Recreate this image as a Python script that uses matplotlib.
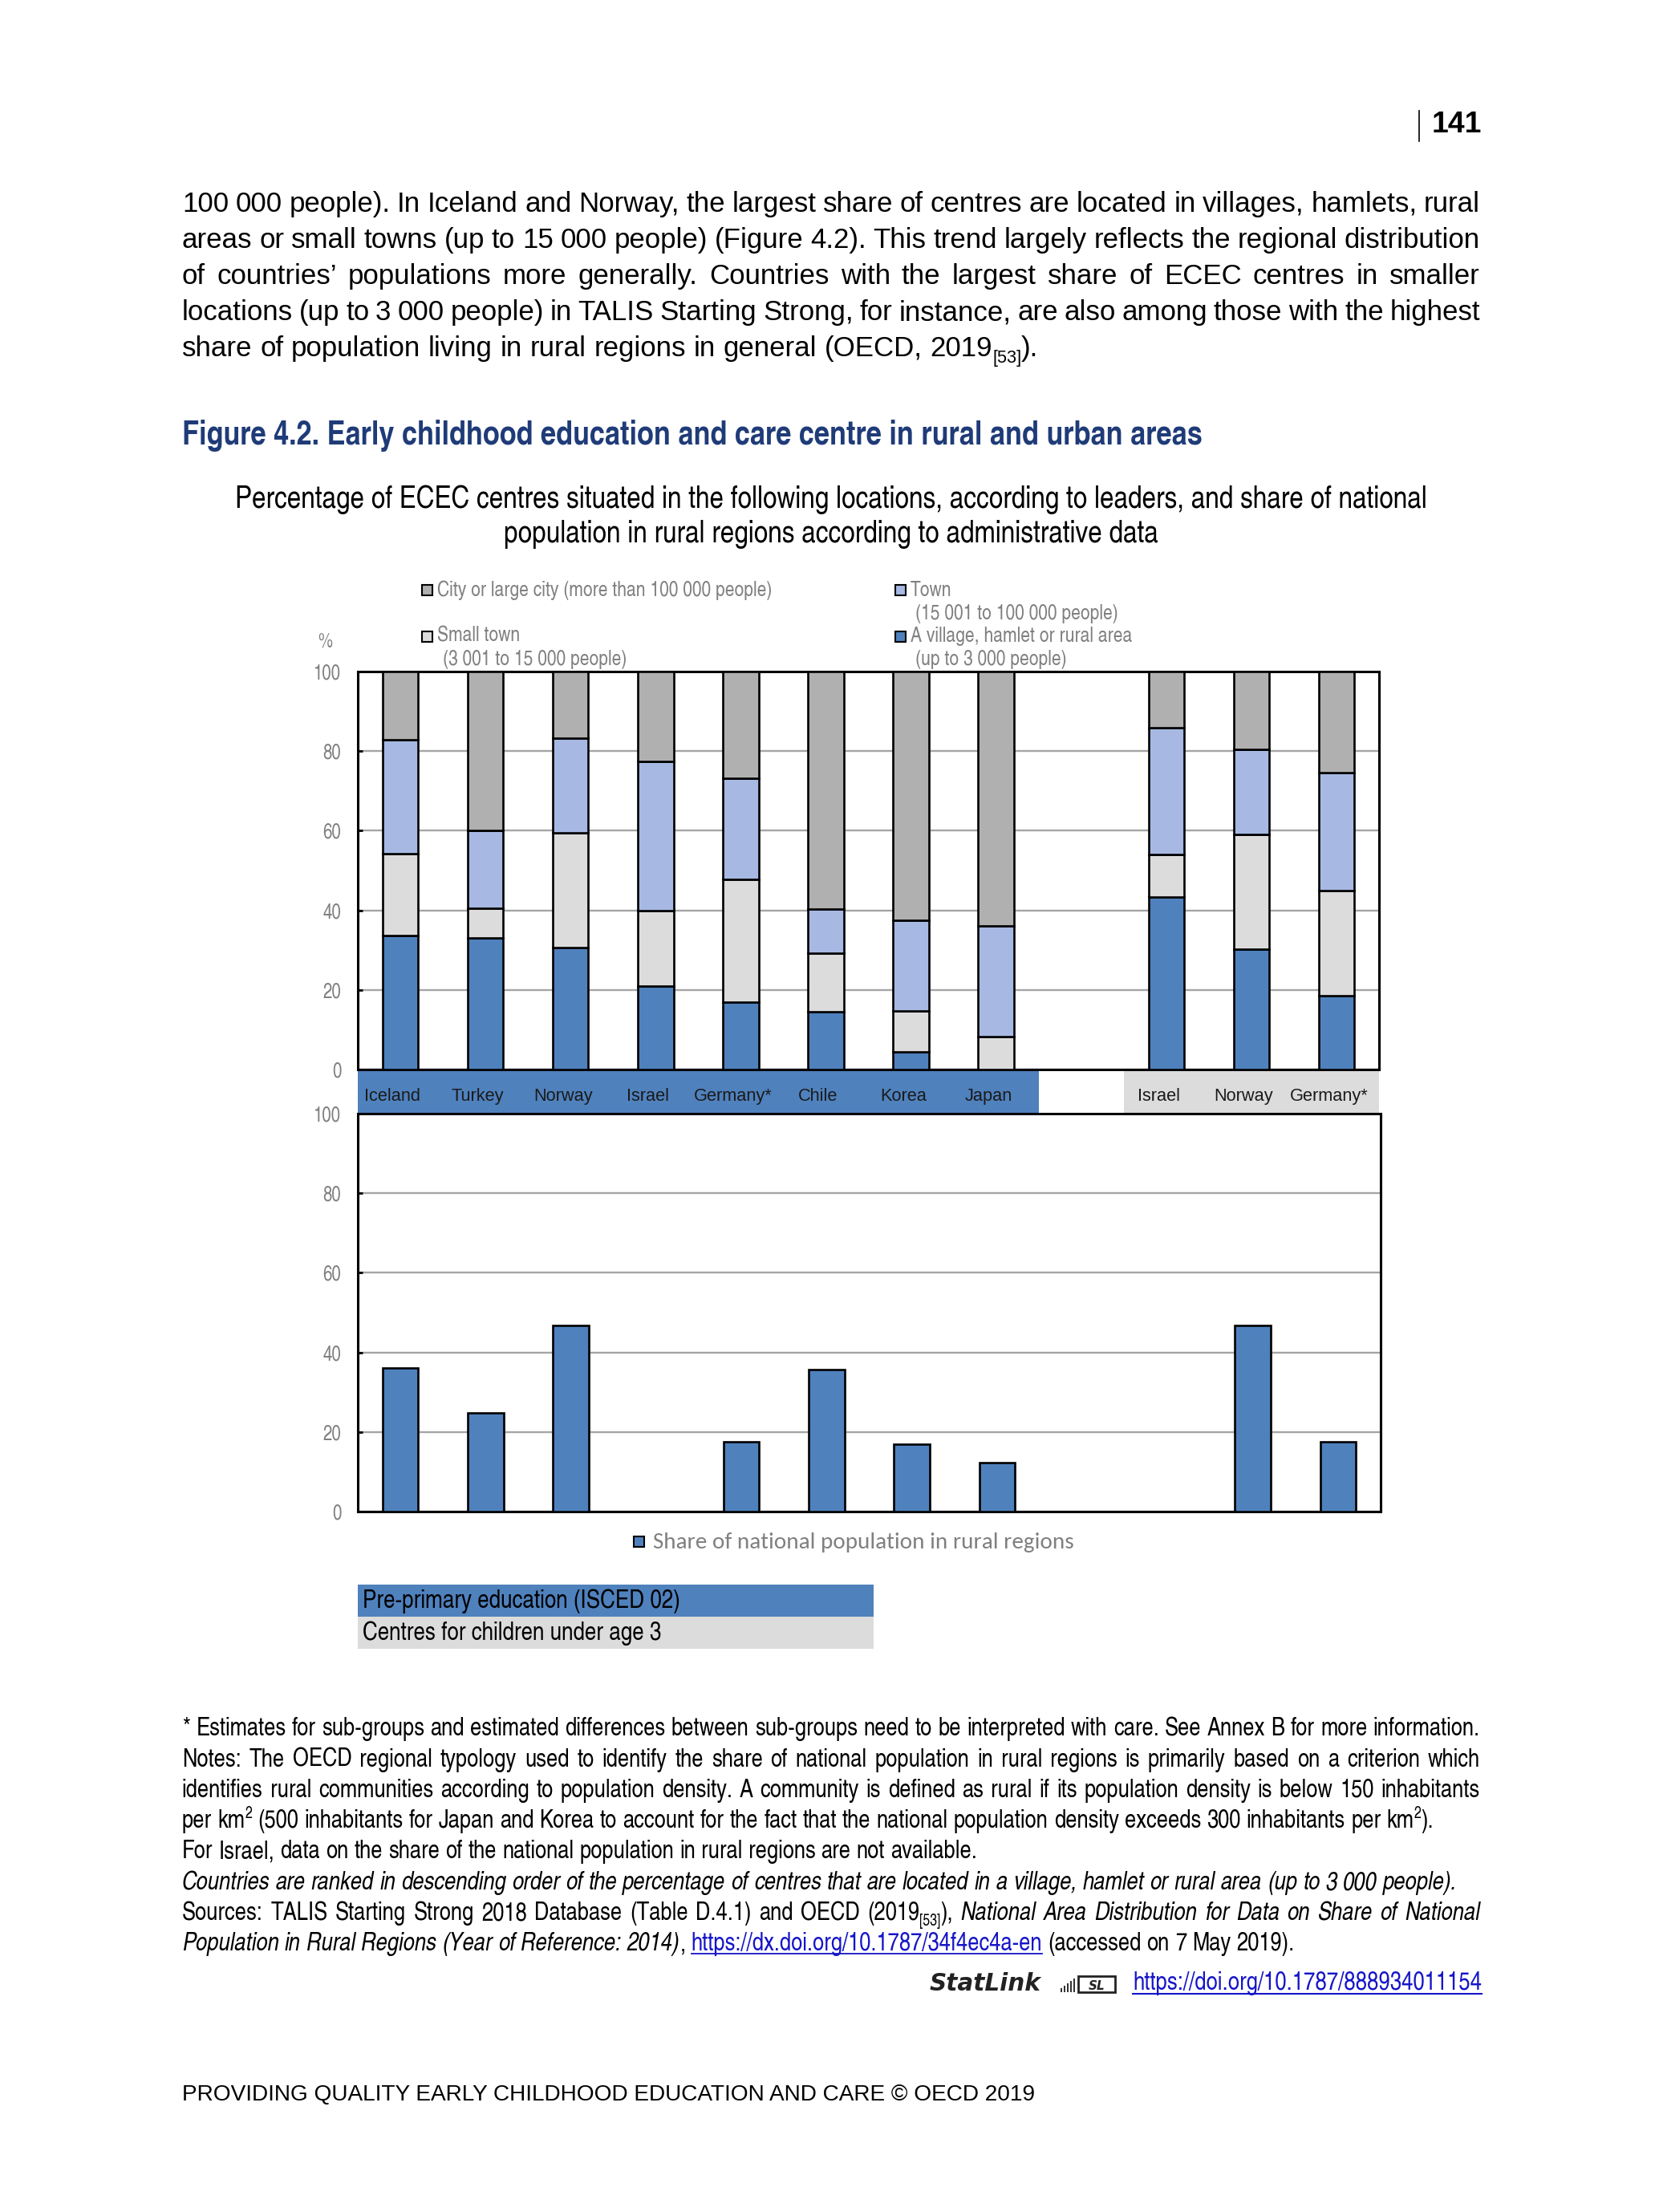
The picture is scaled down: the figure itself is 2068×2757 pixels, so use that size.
import matplotlib
matplotlib.use('Agg')
import matplotlib.pyplot as plt
from matplotlib import font_manager as fm
from matplotlib.patches import Rectangle
from matplotlib.lines import Line2D
from matplotlib.transforms import blended_transform_factory
import numpy as np

# ---------------- data ----------------
CATS_PRE = ['Iceland', 'Turkey', 'Norway', 'Israel', 'Germany*', 'Chile', 'Korea', 'Japan']
CATS_U3 = ['Israel', 'Norway', 'Germany*']

VILLAGE_PRE = [33.6, 33.0, 30.6, 21.0, 17.0, 14.5, 4.4, 0.0]
SMALLTOWN_PRE = [20.6, 7.5, 28.8, 19.0, 30.8, 14.7, 10.3, 8.3]
TOWN_PRE = [28.6, 19.5, 23.9, 37.4, 25.3, 11.2, 22.7, 27.7]
CITY_PRE = [17.2, 40.0, 16.7, 22.6, 26.9, 59.6, 62.6, 64.0]

VILLAGE_U3 = [43.4, 30.2, 18.5]
SMALLTOWN_U3 = [10.6, 28.8, 26.4]
TOWN_U3 = [31.8, 21.4, 29.6]
CITY_U3 = [14.2, 19.6, 25.5]

RURAL_PRE = [36.1, 24.8, 46.8, None, 17.5, 35.6, 17.0, 12.2]
RURAL_U3 = [None, 46.8, 17.5]

YTICKS = [0, 20, 40, 60, 80, 100]

LEG_CITY = 'City or large city (more than 100 000 people)'
LEG_TOWN = ['Town', '(15 001 to 100 000 people)']
LEG_SMALL = ['Small town', '(3 001 to 15 000 people)']
LEG_VILLAGE = ['A village, hamlet or rural area', '(up to 3 000 people)']
LEG_RURAL = 'Share of national population in rural regions'

# ---------------- colours ----------------
C_VILLAGE = '#4F81BD'
C_SMALL = '#DCDCDC'
C_TOWN = '#A7B9E3'
C_CITY = '#B0B0B0'
C_BAND_BLUE = '#4F81BD'
C_BAND_GRAY = '#DCDCDC'
C_GRID = '#A5A5A5'
C_TICK = '#808080'
C_TITLE = '#1F3B78'
C_LINK = '#1515C8'

W, H = 2068, 2757
fig = plt.figure(figsize=(W / 100, H / 100), dpi=100)
fig.patch.set_facecolor('white')
renderer = fig.canvas.get_renderer()


def has_font(name):
    try:
        fm.findfont(fm.FontProperties(family=name), fallback_to_default=False)
        return True
    except Exception:
        return False


def pick(cands, default='DejaVu Sans'):
    for c in cands:
        if has_font(c):
            return c
    return default


SANS = pick(['Liberation Sans', 'Arimo'])
NARROW = pick(['TeX Gyre Heros Cn', 'Liberation Sans Narrow', 'Roboto Condensed', 'Archivo Narrow'], SANS)
CALI = pick(['Carlito', 'Open Sans'], SANS)


def fx(x):
    return x / W


def fy(y):
    return 1 - y / H


def put(x, y, s, **kw):
    return fig.text(fx(x), fy(y), s, **kw)


def measure(s, **kw):
    t = fig.text(0, 0, s, **kw)
    w = t.get_window_extent(renderer).width
    t.remove()
    return w


def fit(s, target, fs0=20, **kw):
    return fs0 * target / measure(s, fontsize=fs0, **kw)


def rect_px(x, y, w, h, **kw):
    r = Rectangle((fx(x), fy(y + h)), w / W, h / H, transform=fig.transFigure, **kw)
    fig.add_artist(r)
    return r


# ------------- rich text lines -------------
def tokens_from(segs):
    words = []
    pending = False
    for text, st in segs:
        buf = ''
        for ch in text:
            if ch == ' ':
                if buf:
                    words.append((buf, st, pending))
                    buf = ''
                    pending = False
                pending = True
            else:
                buf += ch
        if buf:
            words.append((buf, st, pending))
            pending = False
    return words


def style_kw(st, fs, family, color):
    tags = set(st.split())
    kw = dict(fontsize=fs, family=family, color=color)
    if 'i' in tags:
        kw['style'] = 'italic'
    if 'b' in tags:
        kw['weight'] = 'bold'
    if 'sub' in tags or 'sup' in tags:
        kw['fontsize'] = fs * 0.62
    if 'link' in tags:
        kw['color'] = C_LINK
    return kw


def line_layout(segs, fs, family, color):
    words = tokens_from(segs)
    widths = [measure(w, **style_kw(st, fs, family, color)) for w, st, p in words]
    sp = measure('a a', fontsize=fs, family=family) - measure('aa', fontsize=fs, family=family)
    nsp = sum(1 for i, (w, st, p) in enumerate(words) if p and i > 0)
    return words, widths, sp, nsp


def line_width(segs, fs, family, color='black'):
    words, widths, sp, nsp = line_layout(segs, fs, family, color)
    return sum(widths) + nsp * sp


def draw_line(segs, x0, yb, fs, family, color='black', x1=None):
    words, widths, sp, nsp = line_layout(segs, fs, family, color)
    if x1 is not None and nsp:
        sp = (x1 - x0 - sum(widths)) / nsp
    x = x0
    fpx = fs * 100 / 72
    for i, ((w, st, p), wd) in enumerate(zip(words, widths)):
        if i > 0 and p:
            x += sp
        tags = set(st.split())
        dy = 0
        if 'sub' in tags:
            dy = 0.22 * fpx
        if 'sup' in tags:
            dy = -0.38 * fpx
        put(x, yb + dy, w, ha='left', va='baseline', **style_kw(st, fs, family, color))
        if 'link' in tags:
            fig.add_artist(Line2D([fx(x), fx(x + wd)], [fy(yb + 4), fy(yb + 4)],
                                  color=C_LINK, lw=1.3, transform=fig.transFigure))
        x += wd
    return x


# ---------------- page header ----------------
fs_pg = fit('141', 62, weight='bold', family=SANS)
put(1847, 165, '141', ha='right', va='baseline', fontsize=fs_pg, weight='bold', family=SANS)
fig.add_artist(Line2D([fx(1769), fx(1769)], [fy(138), fy(176)], color='black', lw=1.2,
                      transform=fig.transFigure))

# ---------------- body paragraph ----------------
BODY = [
    [("100 000 people). In Iceland and Norway, the largest share of centres are located in villages, hamlets, rural", '')],
    [("areas or small towns (up to 15 000 people) (Figure 4.2). This trend largely reflects the regional distribution", '')],
    [("of countries\u2019 populations more generally. Countries with the largest share of ECEC centres in smaller", '')],
    [("locations (up to 3 000 people) in TALIS Starting Strong, for instance, are also among those with the highest", '')],
    [("share of population living in rural regions in general (OECD, 2019", ''), ("[53]", 'sub'), (").", '')],
]
BODY_BASE = [264, 309, 354, 399, 444]
fs_body = 23 * 1068 / line_width(BODY[-1], 23, SANS)
for i, segs in enumerate(BODY):
    draw_line(segs, 227, BODY_BASE[i], fs_body, SANS, x1=(1845 if i < len(BODY) - 1 else None))

# ---------------- title / subtitle ----------------
TITLE = 'Figure 4.2. Early childhood education and care centre in rural and urban areas'
fs_title = fit(TITLE, 1273, weight='bold', family=NARROW)
put(227, 554, TITLE, ha='left', va='baseline', fontsize=fs_title, weight='bold', family=NARROW, color=C_TITLE)

SUB1 = 'Percentage of ECEC centres situated in the following locations, according to leaders, and share of national'
SUB2 = 'population in rural regions according to administrative data'
fs_sub = fit(SUB1, 1487, family=NARROW)
put(1036, 633, SUB1, ha='center', va='baseline', fontsize=fs_sub, family=NARROW, color='black')
put(1036, 676, SUB2, ha='center', va='baseline', fontsize=fs_sub, family=NARROW, color='black')

# ---------------- top legend ----------------
fs_leg = fit(LEG_CITY, 417, family=NARROW)
legkw = dict(ha='left', va='baseline', fontsize=fs_leg, family=NARROW, color=C_TICK)
rect_px(526, 729, 13, 13, facecolor=C_CITY, edgecolor='black', lw=1.5)
put(545, 743, LEG_CITY, **legkw)
rect_px(1116, 729, 13, 13, facecolor=C_TOWN, edgecolor='black', lw=1.5)
put(1135, 743, LEG_TOWN[0], **legkw)
put(1141, 772, LEG_TOWN[1], **legkw)
rect_px(526, 787, 13, 13, facecolor=C_SMALL, edgecolor='black', lw=1.5)
put(545, 800, LEG_SMALL[0], **legkw)
put(552, 829, LEG_SMALL[1], **legkw)
rect_px(1116, 787, 13, 13, facecolor=C_VILLAGE, edgecolor='black', lw=1.5)
put(1135, 800, LEG_VILLAGE[0], **legkw)
put(1141, 829, LEG_VILLAGE[1], **legkw)

fs_tick = fit('100', 34, family=NARROW)
put(405, 807, '%', ha='center', va='baseline', fontsize=fs_tick, family=NARROW, color=C_TICK)

# ---------------- axes ----------------
pos_pre = np.arange(len(CATS_PRE))
pos_u3 = len(CATS_PRE) + 1 + np.arange(len(CATS_U3))
positions = np.concatenate([pos_pre, pos_u3])
labels = CATS_PRE + CATS_U3
xlim = (-0.5, positions[-1] + 0.5)
BW = 0.42

ax1 = fig.add_axes([fx(446), fy(1333), (1719 - 446) / W, (1333 - 837) / H])
ax2 = fig.add_axes([fx(446), fy(1884), (1721 - 446) / W, (1884 - 1388) / H])


def style_axes(ax):
    ax.set_xlim(*xlim)
    ax.set_ylim(0, 100)
    ax.set_xticks([])
    ax.set_yticks(YTICKS)
    ax.set_yticklabels([str(v) for v in YTICKS], family=NARROW, fontsize=fs_tick, color=C_TICK)
    ax.tick_params(axis='y', direction='in', length=4, width=2, color='black', pad=15)
    ax.yaxis.grid(True, color=C_GRID, lw=1.7)
    ax.set_axisbelow(True)
    for s in ax.spines.values():
        s.set_color('black')
        s.set_linewidth(2.2)
    ax.set_facecolor('white')


style_axes(ax1)
style_axes(ax2)

village = np.array(VILLAGE_PRE + VILLAGE_U3)
small = np.array(SMALLTOWN_PRE + SMALLTOWN_U3)
town = np.array(TOWN_PRE + TOWN_U3)
city = np.array(CITY_PRE + CITY_U3)

bkw = dict(width=BW, edgecolor='black', linewidth=1.9, zorder=3)
ax1.bar(positions, village, color=C_VILLAGE, **bkw)
ax1.bar(positions, small, bottom=village, color=C_SMALL, **bkw)
ax1.bar(positions, town, bottom=village + small, color=C_TOWN, **bkw)
ax1.bar(positions, city, bottom=village + small + town, color=C_CITY, **bkw)

rural = np.array([np.nan if v is None else v for v in RURAL_PRE + RURAL_U3], dtype=float)
ok = np.isfinite(rural)
ax2.bar(positions[ok], rural[ok], color=C_VILLAGE, **bkw)

# category band
bt = blended_transform_factory(ax1.transData, ax1.transAxes)
axh = 1333 - 837
band_top = -(1335 - 1333) / axh
band_bot = -(1388 - 1333) / axh
ax1.add_patch(Rectangle((xlim[0], band_bot), len(CATS_PRE), band_top - band_bot, transform=bt,
                        facecolor=C_BAND_BLUE, edgecolor='none', clip_on=False, zorder=0))
ax1.add_patch(Rectangle((pos_u3[0] - 0.5, band_bot), len(CATS_U3), band_top - band_bot, transform=bt,
                        facecolor=C_BAND_GRAY, edgecolor='none', clip_on=False, zorder=0))
fs_cat = fit('Iceland', 70, family=SANS)
lab_y = -(1372 - 1333) / axh
LAB_SHIFT = -0.09
for p, lab in zip(positions, labels):
    ax1.text(p + LAB_SHIFT, lab_y, lab, transform=bt, ha='center', va='baseline', fontsize=fs_cat,
             family=SANS, color='#1A1A1A', clip_on=False)

# bottom legend
fs_rl = fit(LEG_RURAL, 524, family=CALI)
rect_px(790, 1915, 13, 13, facecolor=C_VILLAGE, edgecolor='black', lw=1.5)
put(814, 1930, LEG_RURAL, ha='left', va='baseline', fontsize=fs_rl, family=CALI, color=C_TICK)

# ISCED boxes
rect_px(446, 1975, 643, 40, facecolor=C_BAND_BLUE, edgecolor='none')
rect_px(446, 2015, 643, 40, facecolor=C_BAND_GRAY, edgecolor='none')
BOX1 = 'Pre-primary education (ISCED 02)'
BOX2 = 'Centres for children under age 3'
fs_box = fit(BOX1, 397, family=NARROW)
put(452, 2004, BOX1, ha='left', va='baseline', fontsize=fs_box, family=NARROW, color='black')
put(452, 2044, BOX2, ha='left', va='baseline', fontsize=fs_box, family=NARROW, color='black')

# ---------------- notes ----------------
NOTES = [
    [("* Estimates for sub-groups and estimated differences between sub-groups need to be interpreted with care. See Annex B for more information.", '')],
    [("Notes: The OECD regional typology used to identify the share of national population in rural regions is primarily based on a criterion which", '')],
    [("identifies rural communities according to population density. A community is defined as rural if its population density is below 150 inhabitants", '')],
    [("per km", ''), ("2", 'sup'), (" (500 inhabitants for Japan and Korea to account for the fact that the national population density exceeds 300 inhabitants per km", ''), ("2", 'sup'), (").", '')],
    [("For Israel, data on the share of the national population in rural regions are not available.", '')],
    [("Countries are ranked in descending order of the percentage of centres that are located in a village, hamlet or rural area (up to 3 000 people).", 'i')],
    [("Sources: TALIS Starting Strong 2018 Database (Table D.4.1) and OECD (2019", ''), ("[53]", 'sub'), ("), ", ''),
     ("National Area Distribution for Data on Share of National", 'i')],
    [("Population in Rural Regions (Year of Reference: 2014)", 'i'), (", ", ''),
     ("https://dx.doi.org/10.1787/34f4ec4a-en", 'link'), (" (accessed on 7 May 2019).", '')],
]
NOTE_BASE = [2163, 2202, 2240, 2278, 2316, 2355, 2393, 2431]
NOTE_JUST = [True, True, True, False, False, False, True, False]
fs_note = 18 * 997 / line_width(NOTES[4], 18, NARROW)
for segs, yb, j in zip(NOTES, NOTE_BASE, NOTE_JUST):
    draw_line(segs, 227, yb, fs_note, NARROW, x1=(1845 if j else None))

# StatLink
fs_sl = fit('StatLink', 139, weight='bold', style='italic', family='DejaVu Sans')
put(1159, 2481, 'StatLink', ha='left', va='baseline', fontsize=fs_sl, weight='bold', style='italic',
    family='DejaVu Sans', color='#222222')
for k in range(5):
    rect_px(1322 + k * 4, 2478 - k * 3, 2, 5 + k * 3, facecolor='#333333', edgecolor='none')
rect_px(1344, 2463, 46, 20, facecolor='white', edgecolor='#222222', lw=2)
put(1367, 2480, 'SL', ha='center', va='baseline', fontsize=11, weight='bold', style='italic',
    family='DejaVu Sans', color='#222222')
LINK2 = 'https://doi.org/10.1787/888934011154'
fs_l2 = fit(LINK2, 435, family=NARROW)
put(1412, 2480, LINK2, ha='left', va='baseline', fontsize=fs_l2, family=NARROW, color=C_LINK)
fig.add_artist(Line2D([fx(1412), fx(1847)], [fy(2485), fy(2485)], color=C_LINK, lw=1.5,
                      transform=fig.transFigure))

# footer
FOOT = 'PROVIDING QUALITY EARLY CHILDHOOD EDUCATION AND CARE \u00a9 OECD 2019'
fs_foot = fit(FOOT, 1067, family=SANS)
put(227, 2618, FOOT, ha='left', va='baseline', fontsize=fs_foot, family=SANS, color='black')

fig.savefig('out.png', dpi=100, facecolor='white')
